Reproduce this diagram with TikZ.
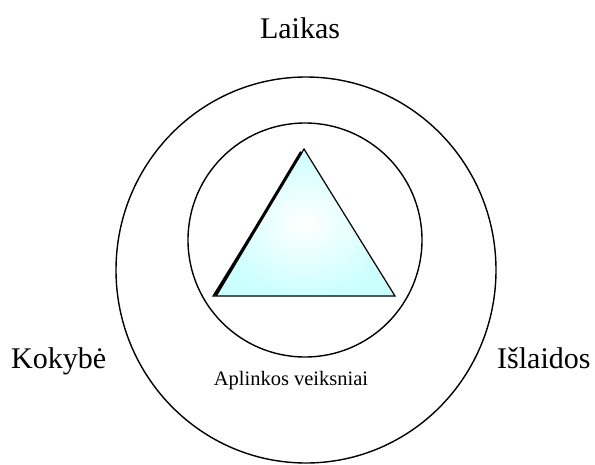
\documentclass[tikz,border=0pt]{standalone}
\usepackage{fontspec}
\setmainfont{Liberation Serif}
\usetikzlibrary{calc}
\begin{document}
\begin{tikzpicture}[x=1pt,y=-1pt,
  ring/.style={draw=black,line width=1.4pt},
  bigtext/.style={font=\fontsize{30}{34}\selectfont,inner sep=0pt,anchor=base},
  smalltext/.style={font=\fontsize{20.5}{24}\selectfont,inner sep=0pt,anchor=base}]
\useasboundingbox (0,0) rectangle (595,464);
\fill[white] (0,0) rectangle (595,464);
% circles
\draw[ring] (306,270) ellipse [x radius=190, y radius=193];
\draw[ring] (305,240) circle [radius=117];
% triangle
\coordinate (apex) at (304,149);
\coordinate (bl) at (213,296);
\coordinate (br) at (395,296);
\shade[inner color=white,outer color=cyan!20] (apex) -- (bl) -- (br) -- cycle;
\draw[line width=1.2pt,line join=miter] (apex) -- (bl) -- (br) -- cycle;
\draw[line width=3pt,line cap=butt] ($(apex)!0.02!(bl)+(-0.8,0)$) -- ($(bl)+(2.5,-0.5)$);
% texts
\node[bigtext] (laikas) at (300,38) {Laikas};
\node[bigtext,anchor=base west] (kokybe) at (11,368) {Kokybė};
\node[bigtext,anchor=base west] (islaidos) at (497,368) {Išlaidos};
\node[smalltext] (aplinkos) at (291,385) {Aplinkos veiksniai};
\end{tikzpicture}
\end{document}
